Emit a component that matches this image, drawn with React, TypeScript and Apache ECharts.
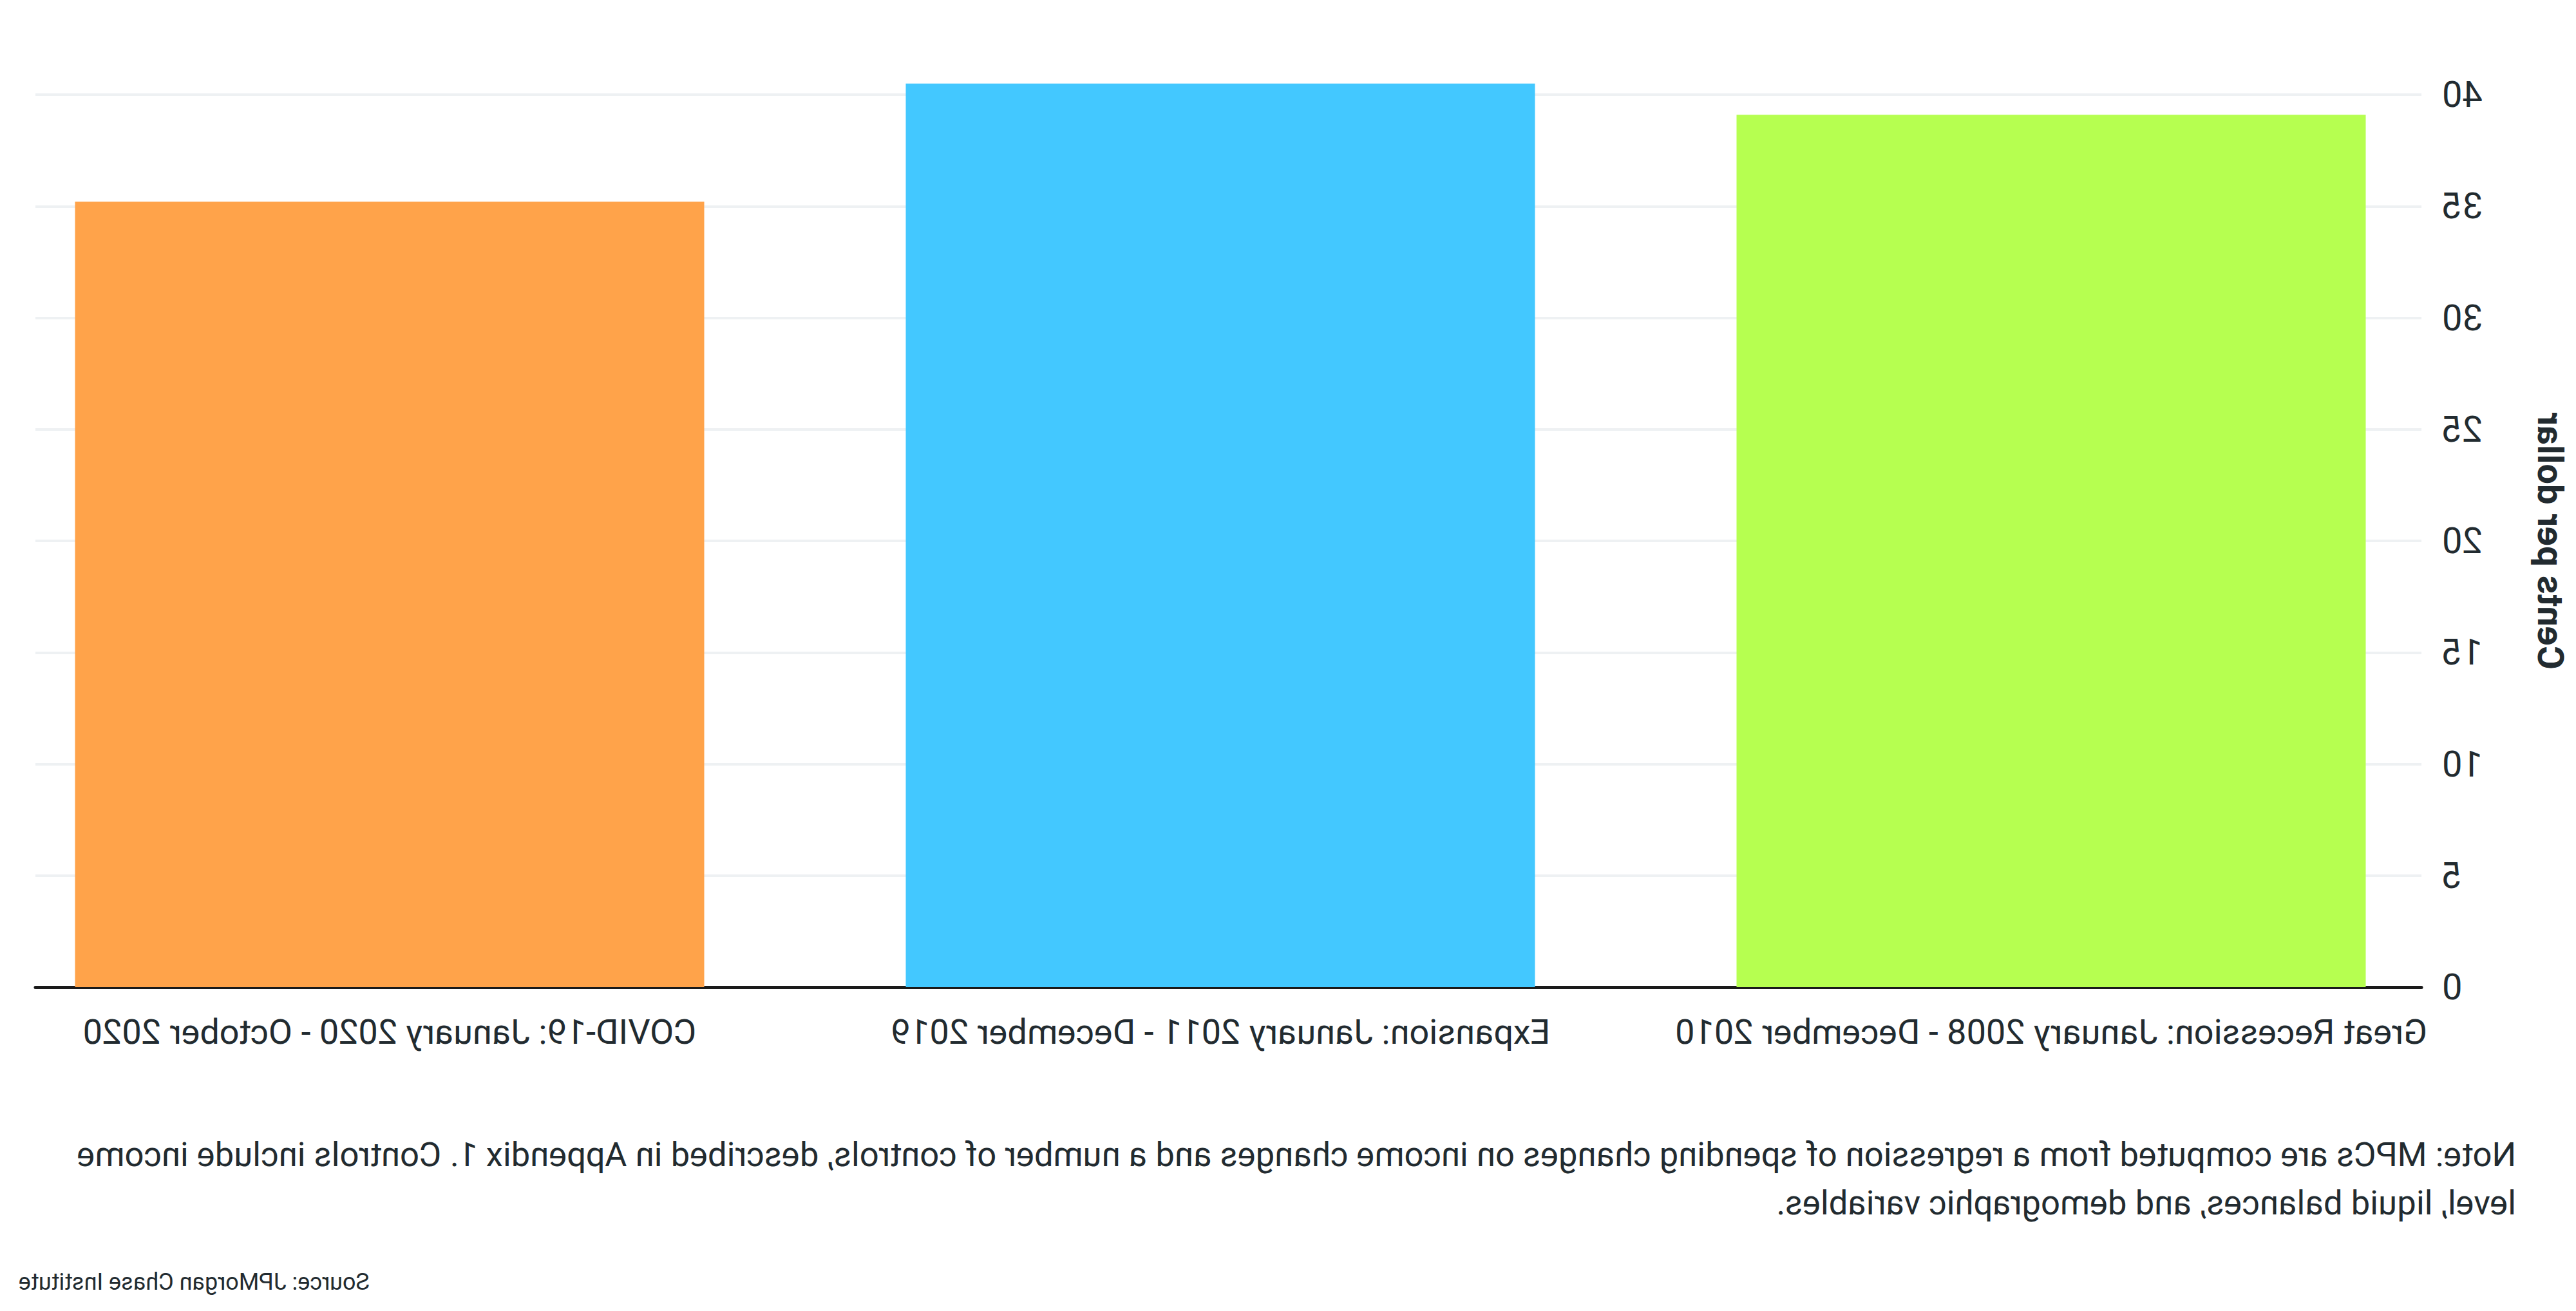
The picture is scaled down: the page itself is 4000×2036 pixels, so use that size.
import React, { useEffect, useRef } from "react";
import * as echarts from "echarts";

const categories = [
  "Great Recession: January 2008 - December 2010",
  "Expansion: January 2011 - December 2019",
  "COVID-19: January 2020 - October 2020",
];
const values = [39.1, 40.5, 35.2];
const barColors = ["#b6ff50", "#43c8ff", "#ffa34a"];
const yTicks = [0, 5, 10, 15, 20, 25, 30, 35, 40];
const yAxisName = "Cents per dollar";
const noteLines = [
  "Note: MPCs are computed from a regression of spending changes on income changes and a number of controls, described in Appendix 1. Controls include income",
  "level, liquid balances, and demographic variables.",
];
const sourceText = "Source: JPMorgan Chase Institute";

const FONT = "Roboto";
const TEXT = "#222b30";

export default function App() {
  const ref = useRef<HTMLDivElement>(null);
  useEffect(() => {
    if (!ref.current) return;
    const chart = echarts.init(ref.current, null, { renderer: "svg" });
    const yMin = yTicks[0];
    const yMax = yTicks[yTicks.length - 1];
    const step = yTicks[1] - yTicks[0];
    chart.setOption({
      animation: false,
      backgroundColor: "#ffffff",
      textStyle: { fontFamily: FONT, color: TEXT },
      grid: [
        { left: 815, right: 605, top: 147, bottom: 503, containLabel: false },
        { left: 240, right: 55, top: 147, bottom: 503, containLabel: false },
      ],
      xAxis: [
        {
          type: "category",
          gridIndex: 0,
          data: categories,
          boundaryGap: false,
          axisLine: { show: false },
          axisTick: { show: false },
          splitLine: { show: false },
          axisLabel: {
            margin: 42,
            fontSize: 54,
            fontFamily: FONT,
            color: TEXT,
            interval: 0,
          },
        },
        {
          type: "value",
          gridIndex: 1,
          min: 0,
          max: 1,
          axisLine: { show: true, onZero: false, lineStyle: { color: "#1a1a1a", width: 5 } },
          axisTick: { show: false },
          axisLabel: { show: false },
          splitLine: { show: false },
        },
      ],
      yAxis: [
        {
          type: "value",
          gridIndex: 0,
          min: yMin,
          max: yMax,
          interval: step,
          show: false,
        },
        {
          type: "value",
          gridIndex: 1,
          min: yMin,
          max: yMax,
          interval: step,
          axisLine: { show: false },
          axisTick: { show: false },
          splitLine: { show: true, lineStyle: { color: "#eef1f3", width: 4 } },
          axisLabel: { margin: 32, fontSize: 56, fontFamily: FONT, color: TEXT },
          name: yAxisName,
          nameLocation: "middle",
          nameGap: 172,
          nameRotate: 90,
          nameTextStyle: { fontSize: 56, fontWeight: "bold", fontFamily: FONT, color: TEXT },
        },
      ],
      series: [
        {
          type: "bar",
          xAxisIndex: 0,
          yAxisIndex: 0,
          barWidth: 977,
          clip: false,
          data: values.map((v, i) => ({ value: v, itemStyle: { color: barColors[i] } })),
          z: 3,
        },
      ],
      graphic: [
        {
          type: "text",
          left: 93,
          top: 1755,
          style: {
            text: noteLines.join("\n"),
            fontSize: 52.6,
            lineHeight: 75,
            fontFamily: FONT,
            fill: TEXT,
            align: "left",
          },
        },
        {
          type: "text",
          right: 29,
          top: 1973,
          style: {
            text: sourceText,
            fontSize: 36,
            fontFamily: FONT,
            fill: TEXT,
          },
        },
      ],
    });
    return () => chart.dispose();
  }, []);
  return (
    <div
      ref={ref}
      style={{
        position: "absolute",
        left: 0,
        top: 0,
        width: 4000,
        height: 2036,
        transform: "scaleX(-1)",
      }}
    />
  );
}
